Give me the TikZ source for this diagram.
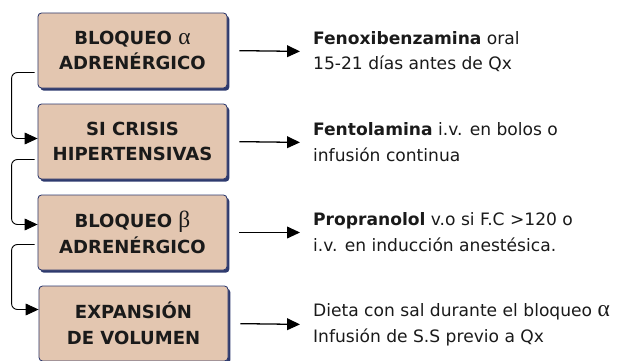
\documentclass[tikz,border=0pt]{standalone}
\usepackage{fontspec}
\setmainfont{DejaVu Sans}
\newfontfamily\griega{Liberation Serif}
\usetikzlibrary{arrows.meta,positioning,shadows}
\definecolor{piel}{HTML}{E3C6B0}
\definecolor{marino}{HTML}{2E3A6E}
\definecolor{tinta}{HTML}{1A1A1A}
\newcommand{\letra}[1]{{\griega\mdseries\fontsize{20}{22}\selectfont #1}}

\begin{document}
\begin{tikzpicture}[x=0.03cm, y=-0.03cm,
  caja/.style={draw=marino, line width=0.7pt, rounded corners=3pt, fill=piel, minimum width=5.67cm,
               minimum height=2.25cm, align=center, font=\fontsize{15.4}{22}\selectfont\bfseries, text=tinta,
               drop shadow={shadow xshift=0.07cm, shadow yshift=-0.08cm, fill=marino, opacity=1}},
  nota/.style={font=\fontsize{14.6}{22}\selectfont, text=tinta, align=left, anchor=west},
  flecha/.style={-{Triangle[length=11pt,width=10pt]}, line width=1.1pt, shorten <=0.36cm, shorten >=0.27cm},
  enlace/.style={-{Triangle[length=11pt,width=10pt]}, line width=0.8pt, rounded corners=5pt}]
\useasboundingbox (0,0) rectangle (633,361);
\node[caja] (alfa)    at (132.5,50.5)  {BLOQUEO \letra{α}\\ADRENÉRGICO};
\node[caja] (crisis)  at (132.5,141.5) {SI CRISIS\\HIPERTENSIVAS};
\node[caja] (beta)    at (132.5,232.5) {BLOQUEO \letra{β}\\ADRENÉRGICO};
\node[caja] (volumen) at (133.5,323.5) {EXPANSIÓN\\DE VOLUMEN};
\node[nota] (n1) at (309,51.5)  {\textbf{Fenoxibenzamina} oral\\15-21 días antes de Qx};
\node[nota] (n2) at (309,142.5) {\textbf{Fentolamina} i.v. en bolos o\\infusión continua};
\node[nota] (n3) at (309,232.5) {\textbf{Propranolol} v.o si F.C {>}120 o\\i.v. en inducción anestésica.};
\node[nota] (n4) at (309,324.5) {Dieta con sal durante el bloqueo \letra{α}\\Infusión de S.S previo a Qx};
\foreach \a/\b in {alfa/n1, crisis/n2, beta/n3, volumen/n4}
  \draw[flecha] (\a.east) -- (\b.west);
\foreach \a/\b/\s/\e in {alfa/crisis/0.66/0.09, crisis/beta/0.54/0.24, beta/volumen/0.36/0.42}
  \draw[enlace] ([xshift=-0.09cm, yshift=-\s cm]\a.west) -- ++(-23,0) |- ([yshift=\e cm]\b.west);
\end{tikzpicture}
\end{document}
